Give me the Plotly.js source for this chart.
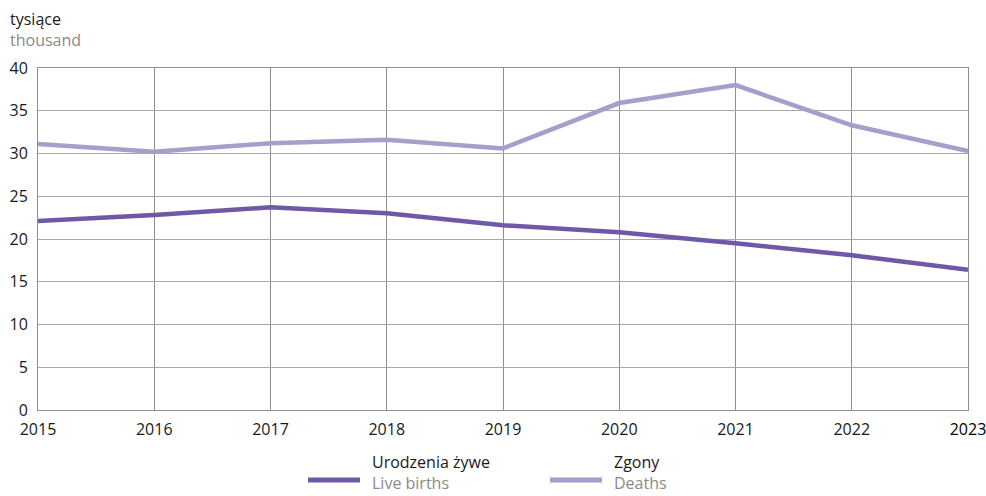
<!DOCTYPE html>
<html>
<head>
<meta charset="utf-8">
<script src="https://cdn.plot.ly/plotly-3.0.1.min.js"></script>
<style>html,body{margin:0;padding:0;background:#fff}#chart{width:986px;height:496px}</style>
</head>
<body>
<div id="chart"></div>
<script>
const years = [2015, 2016, 2017, 2018, 2019, 2020, 2021, 2022, 2023];
const liveBirths = [22.1, 22.8, 23.7, 23.0, 21.6, 20.8, 19.5, 18.1, 16.4];
const deaths = [31.1, 30.2, 31.2, 31.6, 30.6, 35.9, 38.0, 33.3, 30.3];
const yTicks = [0, 5, 10, 15, 20, 25, 30, 35, 40];
const xTickText = ['2015','2016','2017','2018','2019','2020','2021','2022','<span style="color:#000">2023</span>'];
const seriesNames = [['Urodzenia żywe', 'Live births'], ['Zgony', 'Deaths']];
const colors = ['#6f58a6', '#a99dcb'];

const FONT = 'Open Sans, DejaVu Sans, sans-serif';
const FS = 16;
const GREY = '#8a8a8a';

const traces = [
  {x: years, y: liveBirths, type: 'scatter', mode: 'lines', line: {color: colors[0], width: 4.5}, showlegend: false, hoverinfo: 'skip'},
  {x: years, y: deaths, type: 'scatter', mode: 'lines', line: {color: colors[1], width: 4.5}, showlegend: false, hoverinfo: 'skip'}
];

// paper coords helpers (plot area: x 38..968, y 68..410)
const px = v => (v - 38) / 930;
const py = v => (410 - v) / 342;

const legendX = [308, 550];
const shapes = [];
const annotations = [
  {xref: 'paper', yref: 'paper', x: px(8), y: py(30), xanchor: 'left', yanchor: 'middle', align: 'left',
   text: 'tysiące<br><span style="color:' + GREY + '">thousand</span>', showarrow: false,
   font: {family: FONT, size: FS, color: '#1a1a1a'}}
];
seriesNames.forEach((n, i) => {
  shapes.push({type: 'line', xref: 'paper', yref: 'paper', x0: px(legendX[i]), x1: px(legendX[i] + 52), y0: py(480), y1: py(480), line: {color: colors[i], width: 5}});
  annotations.push({xref: 'paper', yref: 'paper', x: px(legendX[i] + 62), y: py(473), xanchor: 'left', yanchor: 'middle', align: 'left',
    text: n[0] + '<br><span style="color:' + GREY + '">' + n[1] + '</span>', showarrow: false,
    font: {family: FONT, size: FS, color: '#1a1a1a'}});
});

const layout = {
  width: 986, height: 496,
  margin: {l: 38, r: 18, t: 68, b: 86, pad: 0},
  paper_bgcolor: '#fff', plot_bgcolor: '#fff',
  font: {family: FONT, size: FS, color: '#1a1a1a'},
  xaxis: {
    range: [2015, 2023], tickvals: years, ticktext: xTickText,
    showgrid: true, gridcolor: '#8f8f8f', gridwidth: 1,
    showline: true, linecolor: '#8f8f8f', linewidth: 1, mirror: true,
    zeroline: false, ticks: '', ticklabeloverflow: 'allow', ticklabelstandoff: 5,
    tickfont: {family: FONT, size: FS, color: '#1a1a1a'}
  },
  yaxis: {
    range: [0, 40], tickvals: yTicks, ticktext: yTicks.map(String),
    showgrid: true, gridcolor: '#a8a8a8', gridwidth: 1,
    showline: true, linecolor: '#8f8f8f', linewidth: 1, mirror: true,
    zeroline: false, ticks: '', ticklabelstandoff: 6,
    tickfont: {family: FONT, size: FS, color: '#1a1a1a'}
  },
  shapes: shapes,
  annotations: annotations
};

Plotly.newPlot('chart', traces, layout, {staticPlot: true, displayModeBar: false});
</script>
</body>
</html>
